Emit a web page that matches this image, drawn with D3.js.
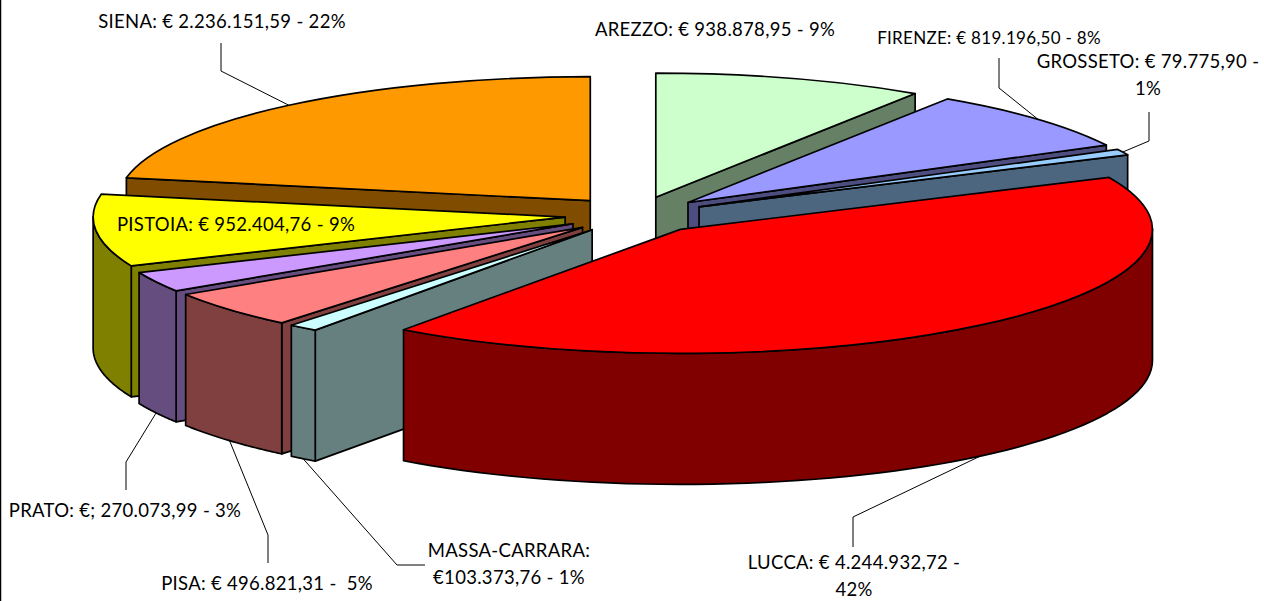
<!DOCTYPE html>
<html>
<head>
<meta charset="utf-8">
<script src="https://cdn.jsdelivr.net/npm/d3@7"></script>
<style>
  html, body { margin: 0; padding: 0; background: #fff; overflow: hidden; }
  text { font-family: Lato, "Open Sans", sans-serif; font-size: 18.5px; letter-spacing: 0.3px; fill: #000; white-space: pre; text-anchor: middle; }
</style>
</head>
<body>
<div id="main"></div>
<script>
const provinces = ['AREZZO', 'FIRENZE', 'GROSSETO', 'LUCCA', 'MASSA-CARRARA', 'PISA', 'PRATO', 'PISTOIA', 'SIENA'];
const amounts = [938878.95, 819196.50, 79775.90, 4244932.72, 103373.76, 496821.31, 270073.99, 952404.76, 2236151.59];
const topColors = ['#ccffcc', '#9999ff', '#99ccff', '#ff0000', '#ccffff', '#ff8080', '#cc99ff', '#ffff00', '#ff9900'];
const wallColors = ['#668066', '#4d4d80', '#4d6680', '#800000', '#668080', '#804040', '#664d80', '#808000', '#804d00'];
const labelLines = [
  ['AREZZO: € 938.878,95 - 9%'],
  ['FIRENZE: € 819.196,50 - 8%'],
  ['GROSSETO: € 79.775,90 -', '1%'],
  ['LUCCA: € 4.244.932,72 -', '42%'],
  ['MASSA-CARRARA:', '€103.373,76 - 1%'],
  ['PISA: € 496.821,31 -  5%'],
  ['PRATO: €; 270.073,99 - 3%'],
  ['PISTOIA: € 952.404,76 - 9%'],
  ['SIENA: € 2.236.151,59 - 22%']
];

const width = 1264;
const height = 601;
const centerX = 635.5;
const centerY = 215;
const radius = 472;
const tilt = 124 / 472;
const depth = 131;
const explode = 0.15;
const lineGap = 27;
const drawOrder = [0, 1, 2, 8, 7, 6, 5, 4, 3];
const labelPos = [[715, 36], [989, 44], [1148, 68], [854, 569], [509, 557], [267, 590], [125, 517], [236, 231], [222, 28]];
const labelSize = [18.5, 17, 18.5, 18.5, 18.5, 18.5, 18.5, 18.5, 18.5];
// elbow and end of each leader, the start is worked out from the slice
const leaders = {
  1: [[999, 88], [999, 58]],
  2: [[1149, 141], [1149, 112]],
  3: [[853, 517], [853, 547]],
  4: [[397, 565], [425, 565]],
  5: [[268, 535], [268, 563]],
  6: [[126, 462], [126, 490]],
  8: [[221, 71], [221, 43]]
};

const svg = d3.select('#main').append('svg')
  .attr('width', width)
  .attr('height', height)
  .style('display', 'block');

// frame line down the left edge
svg.append('line')
  .attr('x1', 0.5)
  .attr('x2', 0.5)
  .attr('y1', 0)
  .attr('y2', height)
  .attr('stroke', '#000')
  .attr('stroke-width', 1.5);

const slices = d3.pie().sort(null).value(d => d)(amounts);
const arc = d3.arc().innerRadius(0).outerRadius(radius);
const line = d3.line();

function apexOf(s) {
  const mid = (s.startAngle + s.endAngle) / 2;
  return [
    centerX + explode * radius * Math.sin(mid),
    centerY - explode * radius * tilt * Math.cos(mid)
  ];
}

function rimPoint(s, angle) {
  const a = apexOf(s);
  return [a[0] + radius * Math.sin(angle), a[1] - radius * tilt * Math.cos(angle)];
}

function edgeWall(s, angle) {
  const a = apexOf(s);
  const p = rimPoint(s, angle);
  return line([a, p, [p[0], p[1] + depth], [a[0], a[1] + depth]]) + 'Z';
}

function outerWall(s) {
  const from = Math.max(s.startAngle, Math.PI / 2);
  const to = Math.min(s.endAngle, Math.PI * 1.5);
  if (to <= from) return null;
  const angles = d3.range(0, 61).map(i => from + (to - from) * i / 60);
  const upper = angles.map(t => rimPoint(s, t));
  const lower = upper.slice().reverse().map(p => [p[0], p[1] + depth]);
  return line(upper.concat(lower)) + 'Z';
}

const pie = svg.append('g')
  .attr('stroke', '#000')
  .attr('stroke-width', 1.7)
  .attr('stroke-linejoin', 'round');

drawOrder.forEach(i => {
  const s = slices[i];
  const g = pie.append('g').attr('class', 'slice').attr('data-name', provinces[i]);
  // only the walls turned to the viewer
  const faces = [];
  if (s.startAngle > Math.PI && s.startAngle < Math.PI * 2) faces.push(edgeWall(s, s.startAngle));
  if (s.endAngle > 0 && s.endAngle < Math.PI) faces.push(edgeWall(s, s.endAngle));
  const rim = outerWall(s);
  if (rim) faces.push(rim);
  faces.forEach(d => g.append('path').attr('d', d).attr('fill', wallColors[i]));
  const a = apexOf(s);
  g.append('path')
    .attr('d', arc(s))
    .attr('transform', `translate(${a[0]},${a[1]}) scale(1,${tilt})`)
    .attr('vector-effect', 'non-scaling-stroke')
    .attr('fill', topColors[i]);
});

// leader lines
Object.keys(leaders).forEach(k => {
  const s = slices[+k];
  const mid = (s.startAngle + s.endAngle) / 2;
  const p = rimPoint(s, mid);
  const start = Math.cos(mid) < 0 ? [p[0], p[1] + depth] : p;
  svg.append('path')
    .attr('d', line([start].concat(leaders[k])))
    .attr('fill', 'none')
    .attr('stroke', '#000')
    .attr('stroke-width', 1);
});

// labels
labelLines.forEach((lines, i) => {
  lines.forEach((t, j) => {
    svg.append('text')
      .attr('x', labelPos[i][0])
      .attr('y', labelPos[i][1] + j * lineGap)
      .style('font-size', labelSize[i] + 'px')
      .text(t);
  });
});
</script>
</body>
</html>
